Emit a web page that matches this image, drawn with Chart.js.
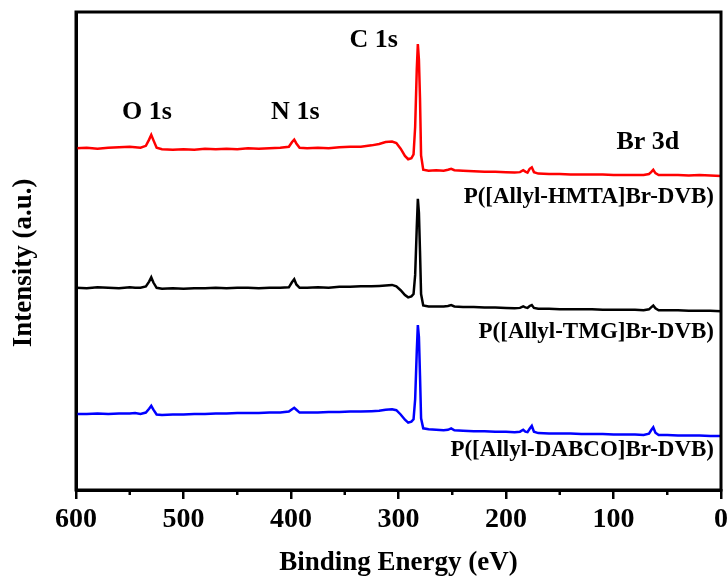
<!DOCTYPE html>
<html>
<head>
<meta charset="utf-8">
<script src="https://cdn.jsdelivr.net/npm/chart.js@4/dist/chart.umd.min.js"></script>
<style>
  html, body { margin: 0; padding: 0; background: #fff; }
  #wrap { width: 728px; height: 580px; }
</style>
</head>
<body>
<div id="wrap"><canvas id="xps" width="728" height="580"></canvas></div>
<script>
// Binding energy (eV) sampled along the survey scan
const energy = [600, 590, 580, 570, 560, 550, 545, 540, 535, 532, 530, 528, 525, 520, 510, 500, 490, 480, 470, 460,
  450, 440, 430, 420, 410, 402, 399, 397, 395, 392, 385, 375, 365, 355, 345, 335, 325, 318, 312, 306,
  302, 298, 294, 291, 288, 286, 284.5, 283, 282, 281, 280, 279, 277, 272, 265, 258, 254, 251, 248, 240,
  230, 220, 210, 200, 192, 187, 184, 182, 180, 178, 176, 174, 170, 160, 150, 140, 130, 120, 110, 100,
  90, 80, 72, 67, 65, 63, 61, 58, 50, 40, 30, 20, 10, 0];

// Offset intensities (a.u.) for each polymer
const hmta = [71.5, 71.6, 71.4, 71.6, 71.7, 71.8, 71.7, 71.6, 72.0, 73.3, 74.3, 73.2, 71.6, 71.3, 71.2, 71.3, 71.2, 71.4, 71.3, 71.4,
  71.3, 71.5, 71.4, 71.5, 71.6, 71.8, 72.8, 73.3, 72.5, 71.6, 71.5, 71.6, 71.5, 71.7, 71.8, 71.8, 72.1, 72.4, 72.8, 72.9,
  72.6, 71.4, 69.9, 69.2, 69.4, 70.2, 76.0, 88.0, 93.3, 90.0, 82.0, 70.0, 67.0, 66.8, 66.9, 66.8, 67.0, 67.2, 66.9, 66.8,
  66.7, 66.6, 66.6, 66.5, 66.4, 66.5, 66.9, 66.6, 66.4, 67.2, 67.5, 66.5, 66.2, 66.1, 66.1, 66.0, 66.0, 66.0, 66.0, 65.9,
  65.9, 65.9, 65.9, 66.1, 66.5, 67.0, 66.3, 65.9, 65.9, 65.9, 65.8, 65.9, 65.8, 65.7];

const tmg = [42.3, 42.2, 42.4, 42.3, 42.2, 42.4, 42.3, 42.3, 42.6, 43.6, 44.5, 43.4, 42.3, 42.1, 42.2, 42.1, 42.2, 42.2, 42.3, 42.2,
  42.3, 42.3, 42.2, 42.3, 42.3, 42.4, 43.5, 44.1, 43.0, 42.3, 42.3, 42.4, 42.3, 42.5, 42.5, 42.6, 42.6, 42.7, 42.8, 42.9,
  42.6, 41.8, 40.8, 40.3, 40.5, 41.0, 45.0, 55.0, 60.9, 58.0, 50.0, 41.0, 38.6, 38.4, 38.4, 38.4, 38.5, 38.7, 38.4, 38.3,
  38.3, 38.2, 38.2, 38.1, 38.0, 38.1, 38.4, 38.2, 38.1, 38.5, 38.7, 38.1, 37.9, 37.9, 37.8, 37.8, 37.8, 37.8, 37.7, 37.7,
  37.7, 37.7, 37.6, 37.8, 38.2, 38.6, 38.0, 37.6, 37.6, 37.6, 37.5, 37.5, 37.5, 37.4];

const dabco = [15.9, 15.9, 16.0, 15.9, 16.0, 16.0, 16.1, 15.9, 16.2, 17.0, 17.6, 16.8, 15.8, 15.7, 15.8, 15.8, 15.9, 15.9, 16.0, 16.0,
  16.1, 16.1, 16.1, 16.2, 16.2, 16.4, 16.9, 17.2, 16.8, 16.2, 16.2, 16.2, 16.3, 16.3, 16.4, 16.4, 16.5, 16.6, 16.8, 16.9,
  16.7, 15.8, 14.7, 14.1, 14.3, 14.8, 19.0, 29.0, 34.5, 32.0, 24.0, 15.0, 12.9, 12.7, 12.6, 12.5, 12.6, 12.9, 12.5, 12.4,
  12.3, 12.3, 12.2, 12.2, 12.1, 12.2, 12.6, 12.2, 12.1, 12.8, 13.4, 12.2, 11.9, 11.8, 11.8, 11.8, 11.7, 11.7, 11.7, 11.6,
  11.6, 11.6, 11.5, 11.8, 12.5, 13.1, 12.0, 11.5, 11.5, 11.4, 11.4, 11.4, 11.3, 11.3];

const seriesNames = ['P([Allyl-HMTA]Br-DVB)', 'P([Allyl-TMG]Br-DVB)', 'P([Allyl-DABCO]Br-DVB)'];
const peakNames = ['O 1s', 'N 1s', 'C 1s', 'Br 3d'];
const yTitle = 'Intensity (a.u.)';

const toPoints = (vals) => energy.map((e, i) => ({ x: e, y: vals[i] }));

const SERIF = "'Liberation Serif', 'Times New Roman', serif";

// Where the peak and sample captions sit, in axis units (eV, a.u.)
const peakSpots = [[534, 79.1], [396, 79.1], [323, 94.1], [68, 72.8]];
const nameSpots = [[6.5, 61.3], [6.5, 33.1], [6.5, 8.4]];

const decorations = {
  id: 'decorations',
  afterDatasetsDraw(chart) {
    const { ctx, chartArea: a, scales: { x, y } } = chart;
    ctx.save();
    // closed frame
    ctx.strokeStyle = '#000';
    ctx.lineWidth = 3;
    ctx.strokeRect(a.left, a.top, a.right - a.left, a.bottom - a.top);
    // minor ticks halfway between labelled ones
    ctx.lineWidth = 2.5;
    for (let v = 50; v < 600; v += 100) {
      const px = x.getPixelForValue(v);
      ctx.beginPath();
      ctx.moveTo(px, a.bottom);
      ctx.lineTo(px, a.bottom + 5);
      ctx.stroke();
    }
    // peak captions
    ctx.fillStyle = '#000';
    ctx.textBaseline = 'middle';
    ctx.textAlign = 'center';
    ctx.font = 'bold 26px ' + SERIF;
    peakNames.forEach((t, i) => {
      ctx.fillText(t, x.getPixelForValue(peakSpots[i][0]), y.getPixelForValue(peakSpots[i][1]));
    });
    // sample captions
    ctx.textAlign = 'right';
    ctx.font = 'bold 23px ' + SERIF;
    seriesNames.forEach((t, i) => {
      ctx.fillText(t, x.getPixelForValue(nameSpots[i][0]), y.getPixelForValue(nameSpots[i][1]));
    });
    // vertical axis title, set slightly below the axis midpoint
    ctx.translate(24, y.getPixelForValue(47.5));
    ctx.rotate(-Math.PI / 2);
    ctx.textAlign = 'center';
    ctx.font = 'bold 27px ' + SERIF;
    ctx.fillText(yTitle, 0, 0);
    ctx.restore();
  }
};

new Chart(document.getElementById('xps'), {
  type: 'line',
  data: {
    datasets: [
      { label: seriesNames[0], data: toPoints(hmta), borderColor: '#ff0000' },
      { label: seriesNames[1], data: toPoints(tmg), borderColor: '#000000' },
      { label: seriesNames[2], data: toPoints(dabco), borderColor: '#0000ff' }
    ]
  },
  options: {
    responsive: false,
    animation: false,
    events: [],
    layout: { padding: { top: 12, right: 0, bottom: 0, left: 0 } },
    elements: {
      line: { borderWidth: 2.5, tension: 0 },
      point: { radius: 0 }
    },
    plugins: { legend: { display: false }, tooltip: { enabled: false } },
    scales: {
      x: {
        type: 'linear',
        reverse: true,
        min: 0,
        max: 600,
        afterFit(s) { s.height = 90; s.paddingRight = 7; },
        border: { display: true, color: '#000', width: 3 },
        grid: { display: true, drawOnChartArea: false, drawTicks: true, tickLength: 9, color: '#000', lineWidth: 2.5 },
        ticks: { stepSize: 100, color: '#000', padding: 4, maxRotation: 0, font: { family: SERIF, size: 28, weight: 'bold' } },
        title: { display: true, text: 'Binding Energy (eV)', color: '#000', padding: { top: 0, bottom: 1 }, font: { family: SERIF, size: 27, weight: 'bold' } }
      },
      y: {
        type: 'linear',
        min: 0,
        max: 100,
        afterFit(s) { s.width = 76; },
        border: { display: true, color: '#000', width: 3 },
        grid: { display: false },
        ticks: { display: false },
        title: { display: false }
      }
    }
  },
  plugins: [decorations]
});
</script>
</body>
</html>
